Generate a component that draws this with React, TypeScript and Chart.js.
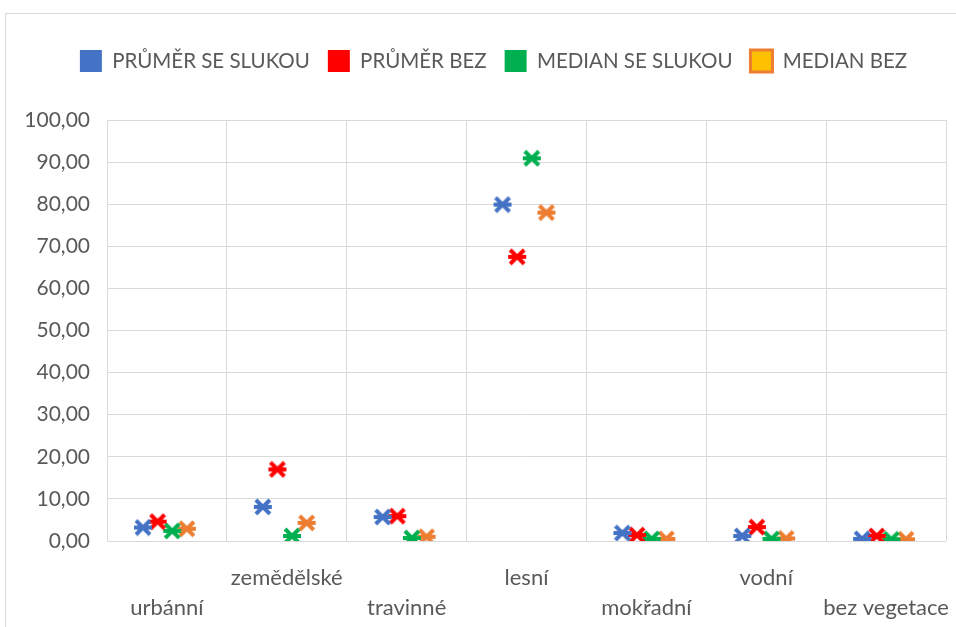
import React, { useEffect, useRef } from 'react';
import { Chart, registerables } from 'chart.js';

Chart.register(...registerables);

// ---- data ----
const categories = ['urbánní', 'zemědělské', 'travinné', 'lesní', 'mokřadní', 'vodní', 'bez vegetace'];
const seriesNames = ['PRŮMĚR SE SLUKOU', 'PRŮMĚR BEZ', 'MEDIAN SE SLUKOU', 'MEDIAN BEZ'];
const prumerSeSlukou = [3.2, 8.1, 5.7, 79.9, 1.9, 1.2, 0.5];
const prumerBez = [4.6, 17.0, 5.9, 67.5, 1.4, 3.3, 1.2];
const medianSeSlukou = [2.4, 1.2, 0.7, 90.9, 0.5, 0.5, 0.4];
const medianBez = [2.9, 4.3, 1.0, 78.0, 0.5, 0.6, 0.4];
const yTickValues = [0, 10, 20, 30, 40, 50, 60, 70, 80, 90, 100];

// ---- style ----
const seriesValues = [prumerSeSlukou, prumerBez, medianSeSlukou, medianBez];
const markerColors = ['#4472C4', '#FF0000', '#00B050', '#ED7D31'];
const legendFill = ['#4472C4', '#FF0000', '#00B050', '#FFC000'];
const legendStroke = ['#4472C4', '#FF0000', '#00B050', '#ED7D31'];
const legendLineWidth = [0, 0, 0, 3];
const seriesOffsets = [-0.2, -0.078, 0.044, 0.166];
const FONT = 'Lato, "Open Sans", sans-serif';
const TEXT = '#595959';
const GRID = '#d9d9d9';

function makeMarker(color: string): HTMLCanvasElement {
  const c = document.createElement('canvas');
  c.width = 20;
  c.height = 18;
  const g = c.getContext('2d')!;
  g.strokeStyle = color;
  g.lineWidth = 4;
  g.lineCap = 'butt';
  g.beginPath();
  g.moveTo(3, 2);
  g.lineTo(17, 16);
  g.moveTo(3, 16);
  g.lineTo(17, 2);
  g.moveTo(1, 9);
  g.lineTo(19, 9);
  g.stroke();
  return c;
}

const framePlugin = {
  id: 'frame',
  beforeDraw(chart: any) {
    const ctx = chart.ctx;
    ctx.save();
    ctx.fillStyle = '#ffffff';
    ctx.fillRect(0, 0, chart.width, chart.height);
    ctx.strokeStyle = GRID;
    ctx.lineWidth = 1;
    ctx.strokeRect(5.5, 13.5, chart.width + 40, chart.height + 40);
    ctx.restore();
  },
};

const legendSpacer = {
  id: 'legendSpacer',
  beforeInit(chart: any) {
    const legend = chart.legend;
    if (!legend) return;
    const fit = legend.fit;
    legend.fit = function () {
      fit.call(this);
      this.height += 38;
    };
  },
  afterLayout(chart: any) {
    if (chart.legend) chart.legend.left += 14;
  },
};

export default function App() {
  const ref = useRef<HTMLCanvasElement>(null);

  useEffect(() => {
    if (!ref.current) return;
    const markers = markerColors.map(makeMarker);
    const datasets = seriesValues.map((vals, k) => ({
      label: seriesNames[k],
      data: vals.map((v, i) => ({ x: i + seriesOffsets[k], y: v })),
      pointStyle: markers[k] as any,
      pointRadius: 9,
      pointHoverRadius: 9,
      showLine: false,
      borderColor: markerColors[k],
      backgroundColor: markerColors[k],
    }));

    const xTicks: number[] = [];
    for (let i = 0; i < categories.length; i++) {
      xTicks.push(i - 0.5, i);
    }
    xTicks.push(categories.length - 0.5);

    const isHalf = (v: number) => Math.abs(v - Math.round(v)) > 0.01;

    const chart = new Chart(ref.current, {
      type: 'scatter',
      data: { datasets: datasets as any },
      options: {
        animation: false,
        responsive: true,
        maintainAspectRatio: false,
        layout: { padding: { top: 32, left: 20, right: 3, bottom: 0 } },
        plugins: {
          tooltip: { enabled: false },
          legend: {
            position: 'top',
            align: 'center',
            labels: {
              boxWidth: 22,
              boxHeight: 22,
              padding: 18,
              color: TEXT,
              font: { family: FONT, size: 20.5 },
              generateLabels: (c: any) =>
                c.data.datasets.map((ds: any, i: number) => ({
                  text: ds.label,
                  fillStyle: legendFill[i],
                  strokeStyle: legendStroke[i],
                  lineWidth: legendLineWidth[i],
                  fontColor: TEXT,
                  datasetIndex: i,
                  hidden: false,
                })),
            },
          },
        },
        scales: {
          x: {
            type: 'linear',
            min: -0.5,
            max: categories.length - 0.5,
            afterBuildTicks: (s: any) => {
              s.ticks = xTicks.map((v) => ({ value: v }));
            },
            afterFit: (s: any) => {
              s.height = 86;
              s.paddingLeft = 0;
              s.paddingRight = 0;
            },
            ticks: {
              autoSkip: false,
              maxRotation: 0,
              minRotation: 0,
              padding: 22,
              color: TEXT,
              font: { family: FONT, size: 22, lineHeight: 1.36 },
              callback: (value: any) => {
                const v = Number(value);
                if (isHalf(v)) return '';
                const i = Math.round(v);
                return i % 2 === 0 ? ['', categories[i]] : [categories[i], ''];
              },
            },
            grid: {
              drawTicks: false,
              color: (ctx: any) => (ctx.tick && isHalf(ctx.tick.value) ? GRID : 'rgba(0,0,0,0)'),
              lineWidth: 1,
            },
            border: { display: false },
          },
          y: {
            min: 0,
            max: 100,
            afterBuildTicks: (s: any) => {
              s.ticks = yTickValues.map((v) => ({ value: v }));
            },
            afterFit: (s: any) => {
              s.width = 87;
            },
            ticks: {
              padding: 17,
              color: TEXT,
              font: { family: FONT, size: 21 },
              callback: (v: any) => Number(v).toFixed(2).replace('.', ','),
            },
            grid: { color: GRID, drawTicks: false, lineWidth: 1 },
            border: { display: false },
          },
        },
      },
      plugins: [framePlugin, legendSpacer],
    } as any);
    return () => chart.destroy();
  }, []);

  return (
    <div style={{ position: 'absolute', left: 0, top: 0, width: 956, height: 627 }}>
      <canvas ref={ref} />
    </div>
  );
}
